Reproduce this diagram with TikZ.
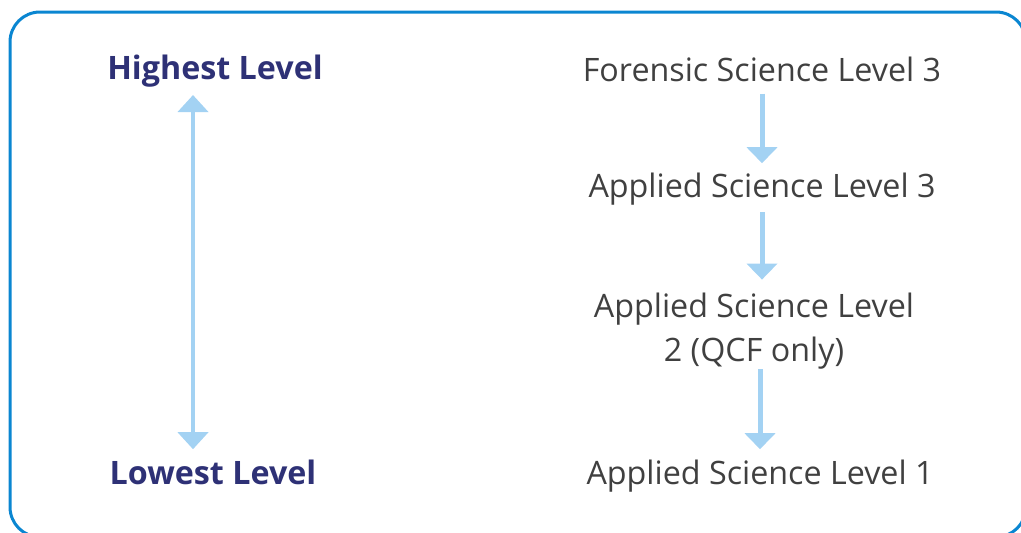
\documentclass[tikz,border=0pt]{standalone}
\usepackage{fontspec}
\setmainfont{Open Sans}
\usetikzlibrary{arrows.meta}
\definecolor{navy}{HTML}{2E3176}
\definecolor{textgray}{HTML}{404040}
\definecolor{arrowblue}{HTML}{A3D2F3}
\definecolor{frameblue}{HTML}{0A86D1}
\tikzset{
  level/.style={font=\fontsize{24.2}{33}\selectfont, text=textgray, inner sep=0pt, align=center},
  extreme/.style={level, font=\fontsize{24.2}{33}\selectfont\bfseries, text=navy},
  flow/.style={draw=arrowblue, line width=3.75pt, -{Triangle[width=22.5pt,length=12pt]}},
  spanarrow/.style={draw=arrowblue, line width=3pt, {Triangle[width=22.5pt,length=12.75pt]}-{Triangle[width=22.5pt,length=12.75pt]}}
}

\begin{document}
\begin{tikzpicture}[x=0.75pt, y=-0.75pt]
		\useasboundingbox (0,0) rectangle (1021,532);
		\draw[frameblue, line width=2.25pt, rounded corners=22.5pt] (10,12) rectangle (1026,537);

		% left side
		\node[extreme, anchor=base] (high) at (215,79) {Highest Level};
		\node[extreme, anchor=base] (low) at (213,484) {Lowest Level};
		\coordinate (axis) at (193,0);
		\draw[spanarrow, shorten <=6pt, shorten >=7.5pt] (high.south -| axis) -- (low.north -| axis);

		% right side
		\node[level, anchor=base] (fs3) at (762,81) {Forensic Science Level 3};
		\node[level, anchor=base] (as3) at (762,197) {Applied Science Level 3};
		\node[level, anchor=center] (as2) at (754,331) {Applied Science Level\\2 (QCF only)};
		\node[level, anchor=base] (as1) at (760,484) {Applied Science Level 1};

		\draw[flow, shorten <=9pt, shorten >=6.75pt] (fs3.south) -- (as3.north);
		\draw[flow, shorten <=5.25pt, shorten >=9.75pt] (as3.south) -- (as2.north -| as3.south);
		\draw[flow, shorten >=7.5pt] (as2.south -| as1.north) -- (as1.north);
\end{tikzpicture}
\end{document}
